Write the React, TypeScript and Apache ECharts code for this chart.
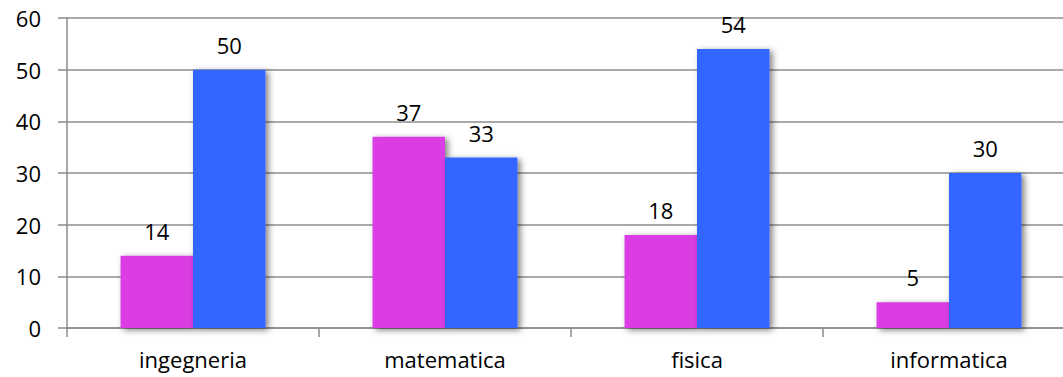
import React, { useEffect, useRef } from "react";
import * as echarts from "echarts";

// Faculty categories and the two value series per category
const categories = ["ingegneria", "matematica", "fisica", "informatica"];
const seriesA = [14, 37, 18, 5];
const seriesB = [50, 33, 54, 30];

const FONT = "'Open Sans', 'Noto Sans', sans-serif";
const FONT_SIZE = 22;
const AXIS_GRAY = "#8c8c8c";

export default function App() {
  const ref = useRef<HTMLDivElement>(null);

  useEffect(() => {
    if (!ref.current) return;
    const chart = echarts.init(ref.current, null, { renderer: "svg" });

    const barStyle = (color: string) => ({
      color,
      shadowColor: "rgba(0,0,0,0.5)",
      shadowBlur: 6,
      shadowOffsetX: 3,
      shadowOffsetY: 2,
    });

    const label = {
      show: true,
      position: "top" as const,
      distance: 14,
      color: "#000",
      fontFamily: FONT,
      fontSize: FONT_SIZE,
    };

    chart.setOption({
      animation: false,
      backgroundColor: "#fff",
      textStyle: { fontFamily: FONT },
      // the plot runs past the right edge of the visible frame
      grid: { left: 67, right: 15, top: 18, bottom: 49, containLabel: false },
      xAxis: {
        type: "category",
        data: categories,
        axisLine: { show: true, lineStyle: { color: AXIS_GRAY, width: 1.5 } },
        axisTick: { show: true, length: 9, lineStyle: { color: AXIS_GRAY, width: 1.5 } },
        axisLabel: { color: "#000", fontFamily: FONT, fontSize: FONT_SIZE, margin: 20 },
      },
      yAxis: {
        type: "value",
        min: 0,
        max: 60,
        interval: 10,
        axisLine: { show: true, lineStyle: { color: AXIS_GRAY, width: 1.5 } },
        axisTick: { show: true, length: 9, lineStyle: { color: AXIS_GRAY, width: 1.5 } },
        axisLabel: { color: "#000", fontFamily: FONT, fontSize: FONT_SIZE, margin: 26 },
        splitLine: { show: true, lineStyle: { color: AXIS_GRAY, width: 1.5 } },
      },
      series: [
        {
          type: "bar",
          data: seriesA,
          barGap: "0%",
          barCategoryGap: "42.5%",
          itemStyle: barStyle("#d93ce3"),
          label,
        },
        {
          type: "bar",
          data: seriesB,
          barGap: "0%",
          barCategoryGap: "42.5%",
          itemStyle: barStyle("#3366ff"),
          label,
        },
      ],
    });

    return () => chart.dispose();
  }, []);

  return (
    <div
      style={{ position: "absolute", left: 0, top: 0, width: 1063, height: 377, overflow: "hidden", background: "#fff" }}
    >
      <div ref={ref} style={{ width: 1090, height: 377 }} />
    </div>
  );
}
